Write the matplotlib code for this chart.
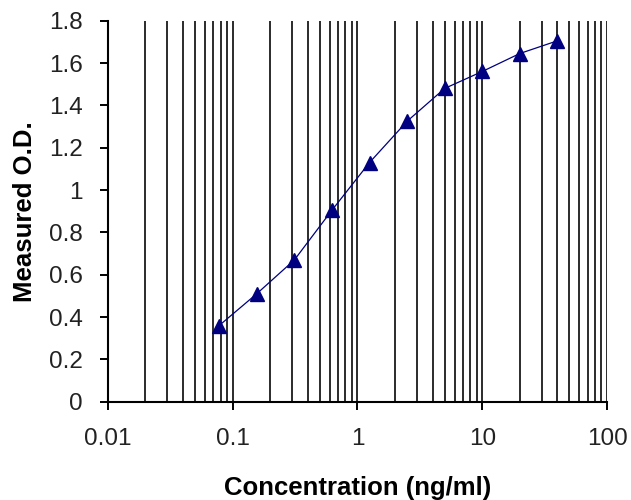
"""Standard curve: measured O.D. vs concentration (log x)."""
import matplotlib
matplotlib.use("Agg")
import matplotlib.pyplot as plt
from matplotlib.ticker import FixedLocator, LogLocator, NullFormatter

concentration = [0.078, 0.156, 0.3125, 0.625, 1.25, 2.5, 5, 10, 20, 40]
measured_od = [0.36, 0.51, 0.67, 0.905, 1.13, 1.325, 1.48, 1.56, 1.645, 1.705]

x_ticks = [0.01, 0.1, 1, 10, 100]
x_tick_labels = ["0.01", "0.1", "1", "10", "100"]
y_ticks = [0, 0.2, 0.4, 0.6, 0.8, 1, 1.2, 1.4, 1.6, 1.8]
y_tick_labels = ["0", "0.2", "0.4", "0.6", "0.8", "1", "1.2", "1.4", "1.6", "1.8"]

plt.rcParams["font.family"] = ["Liberation Sans", "DejaVu Sans"]

fig = plt.figure(figsize=(6.31, 5.0), dpi=100)
ax = fig.add_axes([0.171, 0.1966, 0.791, 0.762])

ax.set_xscale("log")
ax.set_xlim(0.01, 100)
ax.set_ylim(0, 1.8)

# vertical grid at every log tick (majors and minors)
ax.xaxis.set_minor_locator(LogLocator(base=10, subs=range(2, 10)))
ax.xaxis.set_minor_formatter(NullFormatter())
ax.grid(True, axis="x", which="both", color="#1a1a1a", linewidth=1.3)
ax.set_axisbelow(True)

ax.plot(concentration, measured_od, color="#000080", linewidth=0.9,
        marker="^", markersize=10.5, markerfacecolor="#000080",
        markeredgecolor="#000080", zorder=5, clip_on=False)

ax.xaxis.set_major_locator(FixedLocator(x_ticks))
ax.set_xticklabels(x_tick_labels)
ax.set_yticks(y_ticks)
ax.set_yticklabels(y_tick_labels)

ax.tick_params(axis="x", which="major", direction="out", length=6, width=1.4,
               labelsize=17.5, pad=13, colors="black", labelcolor="#222222")
ax.tick_params(axis="x", which="minor", length=0)
ax.tick_params(axis="y", direction="out", length=6, width=1.4,
               labelsize=17.5, pad=12, colors="black", labelcolor="#222222")

for side in ("top", "right"):
    ax.spines[side].set_visible(False)
for side in ("left", "bottom"):
    ax.spines[side].set_linewidth(1.5)
    ax.spines[side].set_color("black")

ax.set_xlabel("Concentration (ng/ml)", fontsize=18.5, fontweight="bold", labelpad=19)
ax.set_ylabel("Measured O.D.", fontsize=18.5, fontweight="bold", labelpad=9)

fig.savefig("out.png", dpi=100)
